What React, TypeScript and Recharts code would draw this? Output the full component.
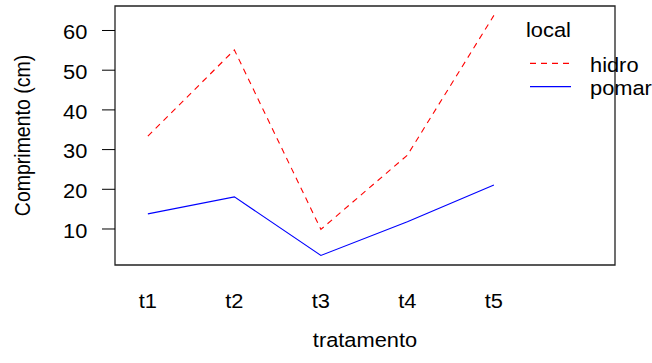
import React from 'react';
import { LineChart, Line, XAxis, YAxis, ReferenceArea, Legend, Label } from 'recharts';

const categories = ['t1', 't2', 't3', 't4', 't5'];
const hidroValues = [33.4, 55.1, 9.9, 28.6, 63.8];
const pomarValues = [13.8, 18.1, 3.35, 11.8, 21.1];
const yTicks = [10, 20, 30, 40, 50, 60];
const seriesNames = ['hidro', 'pomar'];
const legendTitle = 'local';
const xTitle = 'tratamento';
const yTitle = 'Comprimento (cm)';

const xDomain: [number, number] = [0.62, 6.4];
const yDomain: [number, number] = [0.93, 66.17];

const data = categories.map((c, i) => ({ x: i + 1, cat: c, hidro: hidroValues[i], pomar: pomarValues[i] }));

const FONT = '"Liberation Sans", Arial, sans-serif';
const FS = 19.5;
const SX = 1.12;

const XTick = (props: any) => {
  const { x, y, payload } = props;
  const label = categories[payload.value - 1] ?? '';
  return (
    <g transform={`translate(${x},${y + 43.3}) scale(${SX},1)`}>
      <text x={0} y={0} textAnchor="middle" fontFamily={FONT} fontSize={FS} fill="#000">{label}</text>
    </g>
  );
};

const YTick = (props: any) => {
  const { x, y, payload } = props;
  return (
    <g transform={`translate(${x - 14.7},${y + 8.8}) scale(${SX},1)`}>
      <text x={0} y={0} textAnchor="end" fontFamily={FONT} fontSize={FS} fill="#000">{payload.value}</text>
    </g>
  );
};

const XTitle = (props: any) => {
  const vb = props.viewBox || { x: 115, y: 265, width: 500, height: 98 };
  return (
    <g transform={`translate(${vb.x + vb.width / 2},${vb.y + 82.3}) scale(${SX},1)`}>
      <text x={0} y={0} textAnchor="middle" fontFamily={FONT} fontSize={FS} fill="#000">{xTitle}</text>
    </g>
  );
};

const YTitle = (props: any) => {
  const vb = props.viewBox || { x: 0, y: 6, width: 115, height: 259 };
  return (
    <g transform={`translate(${vb.x + 29.5},${vb.y + vb.height / 2}) scale(${SX},1) rotate(-90)`}>
      <text x={0} y={0} textAnchor="middle" fontFamily={FONT} fontSize={FS} fill="#000">{yTitle}</text>
    </g>
  );
};

const LegendContent = (props: any) => {
  const payload = props.payload || [];
  const lineY = [63.3, 86.7];
  const textY = [72.3, 95];
  return (
    <svg width={652} height={363} style={{ position: 'absolute', left: 0, top: 0, overflow: 'visible', pointerEvents: 'none' }}>
      <g transform={`translate(526,36.7) scale(${SX},1)`}>
        <text x={0} y={0} fontFamily={FONT} fontSize={FS} fill="#000">{legendTitle}</text>
      </g>
      {payload.map((entry: any, i: number) => (
        <g key={entry.value}>
          <line x1={530} x2={571} y1={lineY[i]} y2={lineY[i]} stroke={entry.color}
            strokeWidth={1.2} strokeDasharray={entry.payload?.strokeDasharray} />
          <g transform={`translate(590,${textY[i]}) scale(${SX},1)`}>
            <text x={0} y={0} fontFamily={FONT} fontSize={FS} fill="#000">{entry.value}</text>
          </g>
        </g>
      ))}
    </svg>
  );
};

export default function App() {
  return (
    <div style={{ position: 'absolute', left: 0, top: 0, width: 652, height: 363, background: '#fff' }}>
      <LineChart width={652} height={363} data={data} margin={{ top: 6, right: 37, left: 0, bottom: 0 }}>
        <XAxis type="number" dataKey="x" domain={xDomain} ticks={[1, 2, 3, 4, 5]} allowDataOverflow
          axisLine={false} tickLine={false} tickSize={0} tickMargin={0} height={98} tick={<XTick />} interval={0}>
          <Label content={<XTitle />} />
        </XAxis>
        <YAxis type="number" domain={yDomain} ticks={yTicks} allowDataOverflow width={115}
          axisLine={false} tickLine={{ stroke: '#000', strokeWidth: 1 }} tickSize={13} tickMargin={0} tick={<YTick />} interval={0}>
          <Label content={<YTitle />} />
        </YAxis>
        <ReferenceArea x1={xDomain[0]} x2={xDomain[1]} y1={yDomain[0]} y2={yDomain[1]}
          fill="none" fillOpacity={0} stroke="#222" strokeWidth={1.3} ifOverflow="visible" />
        <Line type="linear" dataKey="hidro" name={seriesNames[0]} stroke="#FF0000" strokeWidth={1.1}
          strokeDasharray="6 5" dot={false} activeDot={false} isAnimationActive={false} />
        <Line type="linear" dataKey="pomar" name={seriesNames[1]} stroke="#0000FF" strokeWidth={1.1}
          dot={false} activeDot={false} isAnimationActive={false} />
        <Legend content={<LegendContent />}
          wrapperStyle={{ position: 'absolute', left: 0, top: 0, width: 0, height: 0, overflow: 'visible' }} />
      </LineChart>
    </div>
  );
}
